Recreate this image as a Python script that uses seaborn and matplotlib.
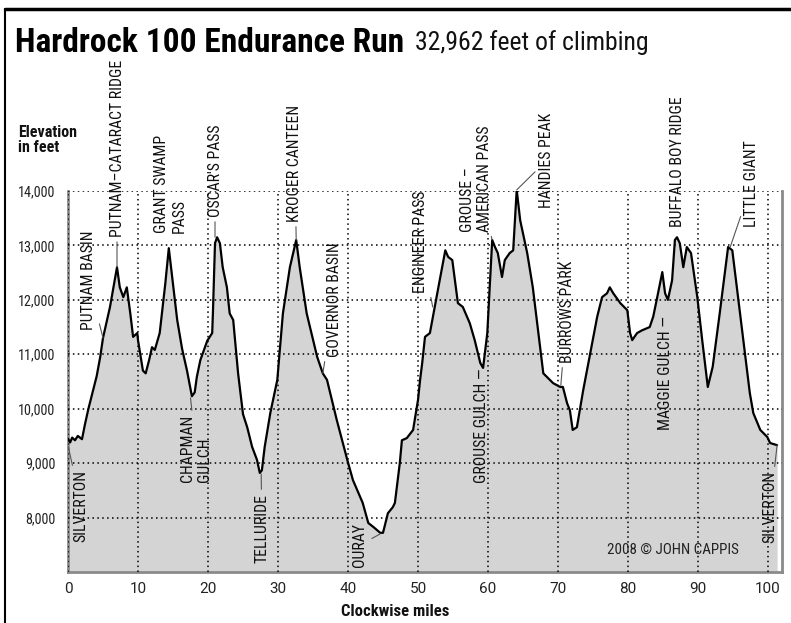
import matplotlib
matplotlib.use("Agg")
import matplotlib.pyplot as plt
from matplotlib import font_manager as fm
from matplotlib.lines import Line2D
import seaborn as sns
import pandas as pd

# ---------------- data ----------------
miles = [0.0, 0.3, 0.6, 1.0, 1.4, 2.0, 2.4, 2.9, 4.1, 4.6, 5.0, 6.0, 7.0, 7.4, 7.9, 8.4,
         8.9, 9.3, 9.9, 10.0, 10.7, 11.1, 11.6, 12.0, 12.4, 13.1, 13.9, 14.4, 14.9, 15.6,
         16.3, 17.0, 17.7, 18.1, 18.4, 18.9, 19.9, 20.6, 20.7, 21.0, 21.3, 21.7, 22.1,
         22.7, 23.1, 23.6, 24.3, 25.0, 25.6, 26.3, 27.0, 27.4, 27.7, 28.1, 28.9, 29.9,
         30.7, 31.7, 32.6, 33.1, 34.1, 35.6, 36.4, 37.0, 38.4, 39.9, 40.7, 42.1, 42.9,
         43.6, 44.6, 45.0, 45.7, 46.4, 46.7, 47.4, 47.7, 48.4, 49.3, 50.0, 50.3, 50.6,
         51.0, 51.7, 52.4, 53.1, 53.9, 54.3, 54.9, 55.7, 56.4, 57.4, 58.1, 58.9, 59.3,
         59.9, 60.6, 61.0, 61.4, 62.0, 62.4, 63.1, 63.6, 64.1, 64.6, 65.6, 66.4, 67.9,
         69.3, 70.3, 70.7, 71.3, 71.7, 72.1, 72.7, 73.6, 74.6, 75.6, 76.3, 77.0, 77.4,
         77.9, 78.9, 79.9, 80.3, 80.6, 81.3, 82.0, 83.1, 83.6, 84.1, 84.9, 85.3, 85.7,
         86.3, 86.7, 87.0, 87.4, 87.9, 88.4, 89.0, 89.9, 90.6, 91.4, 92.1, 93.1, 94.3,
         94.9, 96.0, 97.4, 97.9, 98.9, 99.9, 100.3, 101.3]
elevation = [9450, 9380, 9470, 9420, 9500, 9440, 9700, 9990, 10600, 10950, 11300, 11870,
             12600, 12230, 12050, 12230, 11750, 11320, 11390, 11260, 10700, 10650, 10900,
             11130, 11080, 11390, 12300, 12950, 12400, 11630, 11100, 10700, 10230, 10300,
             10580, 10890, 11250, 11390, 11750, 13040, 13150, 13040, 12600, 12230, 11750,
             11630, 10650, 9900, 9660, 9300, 9060, 8820, 8870, 9300, 9920, 10530, 11750,
             12600, 13100, 12600, 11750, 10950, 10650, 10530, 9790, 9060, 8690, 8270,
             7900, 7830, 7720, 7720, 8080, 8190, 8270, 9000, 9420, 9460, 9610, 10160,
             10530, 10840, 11320, 11390, 11870, 12360, 12910, 12790, 12730, 11940, 11870,
             11570, 11260, 10840, 10750, 11390, 13100, 12970, 12860, 12420, 12730, 12860,
             12910, 14020, 13460, 12860, 12230, 10650, 10470, 10400, 10400, 10100, 9970,
             9610, 9660, 10340, 11020, 11690, 12050, 12120, 12230, 12120, 11940, 11810,
             11390, 11260, 11390, 11440, 11500, 11690, 12000, 12510, 12120, 12000, 12360,
             13100, 13150, 13040, 12600, 12970, 12860, 12050, 11260, 10400, 10770, 11750,
             12970, 12910, 11750, 10290, 9920, 9610, 9480, 9370, 9330]

x_ticks = [0, 10, 20, 30, 40, 50, 60, 70, 80, 90, 100]
y_ticks = [8000, 9000, 10000, 11000, 12000, 13000, 14000]
y_tick_labels = ["8,000", "9,000", "10,000", "11,000", "12,000", "13,000", "14,000"]

title = "Hardrock 100 Endurance Run"
subtitle = "32,962 feet of climbing"
y_title = "Elevation\nin feet"
x_title = "Clockwise miles"
credit = "2008 \u00a9 JOHN CAPPIS"

# place names
place_names = ["PUTNAM BASIN", "PUTNAM\u2013CATARACT RIDGE", "GRANT SWAMP\nPASS", "OSCAR'S PASS",
               "KROGER CANTEEN", "GOVERNOR BASIN", "ENGINEER PASS", "GROUSE \u2013\nAMERICAN PASS",
               "HANDIES PEAK", "BURROWS PARK", "BUFFALO BOY RIDGE", "LITTLE GIANT",
               "SILVERTON", "CHAPMAN\nGULCH", "TELLURIDE", "OURAY",
               "GROUSE GULCH \u2014", "MAGGIE GULCH \u2014", "SILVERTON"]

# ---------------- layout (label text anchor, vertical anchor, leader target) ----------------
label_layout = [
    (2.9, 11450, "bottom", 5.0, 11300),
    (7.0, 13150, "bottom", 7.0, 12600),
    (14.6, 13230, "bottom", None, None),
    (21.0, 13520, "bottom", 21.0, 13150),
    (32.4, 13430, "bottom", 32.6, 13100),
    (38.1, 10950, "bottom", 36.4, 10650),
    (50.3, 12130, "bottom", 52.1, 11870),
    (58.3, 13250, "bottom", 60.6, 13100),
    (68.4, 13690, "bottom", 64.1, 14020),
    (71.3, 10840, "bottom", 70.4, 10430),
    (87.0, 13340, "bottom", None, None),
    (97.7, 13340, "bottom", 94.6, 12970),
    (1.9, 7550, "bottom", 0.05, 9300),
    (18.3, 8650, "bottom", 17.5, 10200),
    (27.7, 7165, "bottom", 27.6, 8800),
    (41.7, 7090, "bottom", 44.6, 7700),
    (59.1, 10740, "top", None, None),
    (85.3, 11700, "top", None, None),
    (100.3, 7530, "bottom", 101.3, 9330),
]

# ---------------- fonts ----------------
avail = {(f.name, f.stretch) for f in fm.fontManager.ttflist}
names = {a[0] for a in avail}
if "Roboto Condensed" in names:
    NARROW = dict(family="Roboto Condensed")
    nscale = 1.0
elif "Liberation Sans Narrow" in names:
    NARROW = dict(family="Liberation Sans Narrow")
    nscale = 1.05
elif any(n == "DejaVu Sans" and s == "condensed" for n, s in avail):
    NARROW = dict(family="DejaVu Sans", stretch="condensed")
    nscale = 0.92
else:
    NARROW = dict(family="DejaVu Sans")
    nscale = 0.85
REG = "Roboto" if "Roboto" in names else "DejaVu Sans"

sns.set_theme(style="white")
plt.rcParams["font.family"] = ["DejaVu Sans"]

df = pd.DataFrame({"mile": miles, "elev": elevation})

W, H = 791, 623
fig = plt.figure(figsize=(W / 100, H / 100), dpi=100)
ax = fig.add_axes([68 / W, (H - 572) / H, 714 / W, 381 / H])

ax.fill_between(df["mile"], df["elev"], 7000, color="#d4d4d4", lw=0, zorder=1)
sns.lineplot(data=df, x="mile", y="elev", ax=ax, color="black", lw=1.6, zorder=4,
             estimator=None, sort=False)

ax.set_xlim(0, 102)
ax.set_ylim(7000, 14000)
ax.set_xticks(x_ticks)
ax.set_yticks(y_ticks)
ax.set_yticklabels(y_tick_labels)
ax.set_xlabel("")
ax.set_ylabel("")

ax.grid(True, color="black", lw=1.1, linestyle=(0, (1, 2.2)), zorder=2)
ax.set_axisbelow(False)
for sp in ["left", "right", "bottom"]:
    ax.spines[sp].set_color("#8a8a8a")
    ax.spines[sp].set_linewidth(2.0)
ax.spines["top"].set_visible(False)
ax.tick_params(axis="both", length=0)
ax.tick_params(axis="x", pad=7)
ax.tick_params(axis="y", pad=9)
for t in ax.get_xticklabels():
    t.set_fontsize(11)
    t.set_fontfamily(REG)
    t.set_color("#222222")
for t in ax.get_yticklabels():
    t.set_fontsize(10.2 * nscale)
    t.set_fontfamily(NARROW["family"])
    if "stretch" in NARROW:
        t.set_fontstretch(NARROW["stretch"])
    t.set_color("#222222")

# labels
for name, (tx, ty, va, px, py) in zip(place_names, label_layout):
    kw = dict(rotation=90, ha="center", va=va, fontsize=11.3 * nscale, color="#111111",
              multialignment="left", zorder=6, **NARROW)
    if px is None:
        ax.text(tx, ty, name, **kw)
    else:
        ax.annotate(name, xy=(px, py), xytext=(tx, ty), textcoords="data",
                    annotation_clip=False,
                    arrowprops=dict(arrowstyle="-", color="#555555", lw=0.8,
                                    shrinkA=1, shrinkB=0), **kw)

ax.text(86.4, 7400, credit, ha="center", va="center", fontsize=10.8 * nscale,
        color="#222222", zorder=6, **NARROW)

# titles
fig.text(15 / W, 1 - 52 / H, title, ha="left", va="baseline", fontsize=24 * nscale,
         fontweight="bold", color="black", **NARROW)
fig.text(415 / W, 1 - 50 / H, subtitle, ha="left", va="baseline", fontsize=18.5 * nscale,
         color="#111111", **NARROW)
fig.text(18 / W, 1 - 125 / H, y_title, ha="left", va="top", fontsize=11.5 * nscale,
         fontweight="bold", color="#111111", linespacing=1.0, **NARROW)
fig.text(395 / W, 1 - 612 / H, x_title, ha="center", va="center", fontsize=12 * nscale,
         fontweight="bold", color="#111111", **NARROW)

# frame
fig.add_artist(Line2D([5 / W, 1.0], [1 - 9 / H, 1 - 9 / H], color="black", lw=2.5,
                      transform=fig.transFigure))
fig.add_artist(Line2D([5 / W, 5 / W], [1 - 9 / H, 0], color="black", lw=1.5,
                      transform=fig.transFigure))

fig.savefig("out.png", dpi=100)
